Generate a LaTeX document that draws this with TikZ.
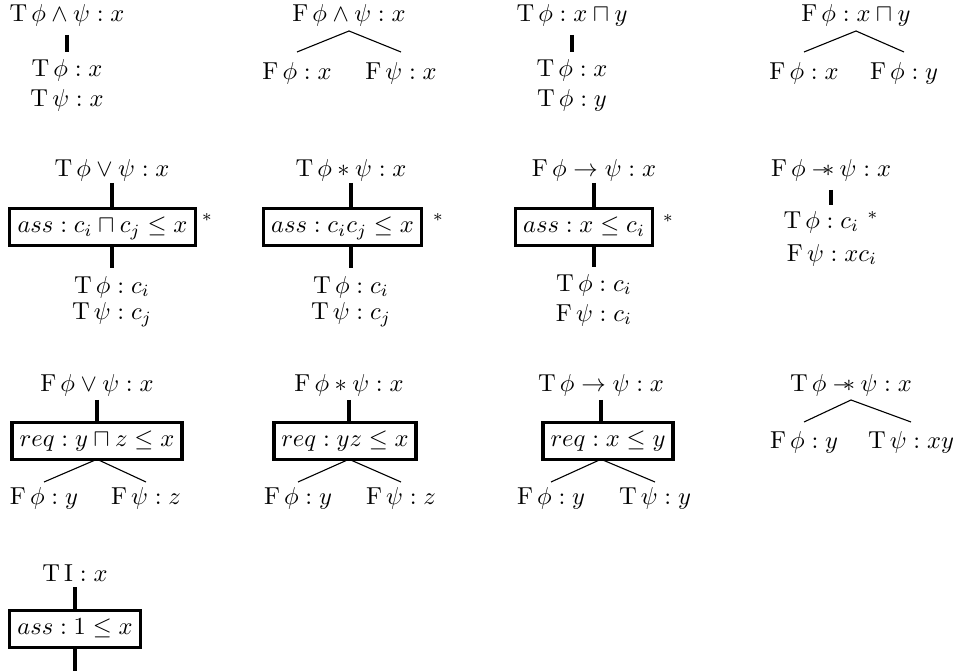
\documentclass[tikz,border=0pt]{standalone}
\usetikzlibrary{calc}
\newcommand{\mywand}{\mathbin{-\!\!\ast}}
\begin{document}
\begin{tikzpicture}[x=0.408pt,y=-0.408pt,
  lab/.style={inner sep=0pt,outer sep=0pt},
  bx/.style={draw,line width=1.4pt,inner xsep=3pt,inner ysep=2.7pt,text height=7pt,text depth=2.5pt,outer sep=0pt},
  vl/.style={line width=1.4pt},
  br/.style={line width=0.45pt},
  st/.style={inner sep=0pt}]
\useasboundingbox (0,0) rectangle (962,672);

% ---- Row 1 ----
\node[lab] (r1) at (67,15) {$\mathrm{T}\,\phi\wedge\psi : x$};
\node[lab] (c1a) at (67,70) {$\mathrm{T}\,\phi : x$};
\node[lab] (c1b) at (67,100) {$\mathrm{T}\,\psi : x$};
\draw[vl] ($(r1)+(0,20)$) -- ($(c1a)+(0,-18)$);

\node[lab] (r2) at (349,15) {$\mathrm{F}\,\phi\wedge\psi : x$};
\node[lab] (c2a) at (297,73) {$\mathrm{F}\,\phi : x$};
\node[lab] (c2b) at (401,73) {$\mathrm{F}\,\psi : x$};
\draw[br] ($(c2a)+(0,-21)$) -- ($(r2)+(0,16)$) -- ($(c2b)+(0,-21)$);

\node[lab] (r3) at (572,15) {$\mathrm{T}\,\phi : x\sqcap y$};
\node[lab] (c3a) at (572,70) {$\mathrm{T}\,\phi : x$};
\node[lab] (c3b) at (572,100) {$\mathrm{T}\,\phi : y$};
\draw[vl] ($(r3)+(0,20)$) -- ($(c3a)+(0,-18)$);

\node[lab] (r4) at (856,15) {$\mathrm{F}\,\phi : x\sqcap y$};
\node[lab] (c4a) at (804,73) {$\mathrm{F}\,\phi : x$};
\node[lab] (c4b) at (904,73) {$\mathrm{F}\,\phi : y$};
\draw[br] ($(c4a)+(0,-21)$) -- ($(r4)+(0,16)$) -- ($(c4b)+(0,-21)$);

% ---- Row 2 ----
\node[lab] (r5) at (112,170) {$\mathrm{T}\,\phi\vee\psi : x$};
\node[bx,minimum width=75.9pt] (b5) at (102.5,227) {$ass : c_i\sqcap c_j\leq x$};
\node[st] (s5) at (207,218) {$\scriptstyle\ast$};
\node[lab] (c5a) at (112,287) {$\mathrm{T}\,\phi : c_i$};
\node[lab] (c5b) at (112,315) {$\mathrm{T}\,\psi : c_j$};
\draw[vl] ($(r5)+(0,13)$) -- (r5 |- b5.north);
\draw[vl] (r5 |- b5.south) -- ($(c5a)+(0,-19)$);

\node[lab] (r6) at (351,170) {$\mathrm{T}\,\phi\ast\psi : x$};
\node[bx,minimum width=64.5pt] (b6) at (342.5,227) {$ass : c_ic_j\leq x$};
\node[st] (s6) at (438,218) {$\scriptstyle\ast$};
\node[lab] (c6a) at (351,287) {$\mathrm{T}\,\phi : c_i$};
\node[lab] (c6b) at (351,315) {$\mathrm{T}\,\psi : c_j$};
\draw[vl] ($(r6)+(0,13)$) -- (r6 |- b6.north);
\draw[vl] (r6 |- b6.south) -- ($(c6a)+(0,-19)$);

\node[lab] (r7) at (594,170) {$\mathrm{F}\,\phi\to\psi : x$};
\node[bx,minimum width=55.1pt] (b7) at (584,227) {$ass : x\leq c_i$};
\node[st] (s7) at (668,219) {$\scriptstyle\ast$};
\node[lab] (c7a) at (594,285) {$\mathrm{T}\,\phi : c_i$};
\node[lab] (c7b) at (594,315) {$\mathrm{F}\,\psi : c_i$};
\draw[vl] ($(r7)+(0,13)$) -- (r7 |- b7.north);
\draw[vl] (r7 |- b7.south) -- ($(c7a)+(0,-18)$);

\node[lab] (r8) at (831,170) {$\mathrm{F}\,\phi\mywand\psi : x$};
\node[lab] (c8a) at (831,222) {$\mathrm{T}\,\phi : c_i\ {}^{\ast}$};
\node[lab] (c8b) at (832,255) {$\mathrm{F}\,\psi : xc_i$};
\draw[vl] ($(r8)+(0,20)$) -- ($(r8 |- c8a)+(0,-17)$);

% ---- Row 3 ----
\node[lab] (r9) at (97,385) {$\mathrm{F}\,\phi\vee\psi : x$};
\node[bx,minimum width=69.4pt] (b9) at (97,441) {$req : y\sqcap z\leq x$};
\node[lab] (c9a) at (44,498) {$\mathrm{F}\,\phi : y$};
\node[lab] (c9b) at (146,498) {$\mathrm{F}\,\psi : z$};
\draw[vl] ($(r9)+(0,15)$) -- (r9 |- b9.north);
\draw[br] ($(c9a)+(0,-16)$) -- (r9 |- b9.south) -- ($(c9b)+(0,-16)$);

\node[lab] (r10) at (349,385) {$\mathrm{F}\,\phi\ast\psi : x$};
\node[bx,minimum width=54.3pt] (b10) at (345,441) {$req : yz\leq x$};
\node[lab] (c10a) at (298,498) {$\mathrm{F}\,\phi : y$};
\node[lab] (c10b) at (401,498) {$\mathrm{F}\,\psi : z$};
\draw[vl] ($(r10)+(0,15)$) -- (r10 |- b10.north);
\draw[br] ($(c10a)+(0,-16)$) -- (r10 |- b10.south) -- ($(c10b)+(0,-16)$);

\node[lab] (r11) at (601,385) {$\mathrm{T}\,\phi\to\psi : x$};
\node[bx,minimum width=49pt] (b11) at (608,441) {$req : x\leq y$};
\node[lab] (c11a) at (551,498) {$\mathrm{F}\,\phi : y$};
\node[lab] (c11b) at (655,498) {$\mathrm{T}\,\psi : y$};
\draw[vl] ($(r11)+(0,15)$) -- (r11 |- b11.north);
\draw[br] ($(c11a)+(0,-16)$) -- (r11 |- b11.south) -- ($(c11b)+(0,-16)$);

\node[lab] (r12) at (851,385) {$\mathrm{T}\,\phi\mywand\psi : x$};
\node[lab] (c12a) at (804,442) {$\mathrm{F}\,\phi : y$};
\node[lab] (c12b) at (911,442) {$\mathrm{T}\,\psi : xy$};
\draw[br] ($(c12a)+(0,-20)$) -- ($(r12)+(0,15)$) -- ($(c12b)+(0,-20)$);

% ---- Row 4 ----
\node[lab] (r13) at (75,573) {$\mathrm{T}\,\mathrm{I} : x$};
\node[bx,minimum width=53.5pt] (b13) at (75,629) {$ass : 1\leq x$};
\coordinate (e13) at (75,671);
\draw[vl] ($(r13)+(0,14)$) -- (b13);
\draw[vl] (b13) -- (e13);
\end{tikzpicture}
\end{document}
